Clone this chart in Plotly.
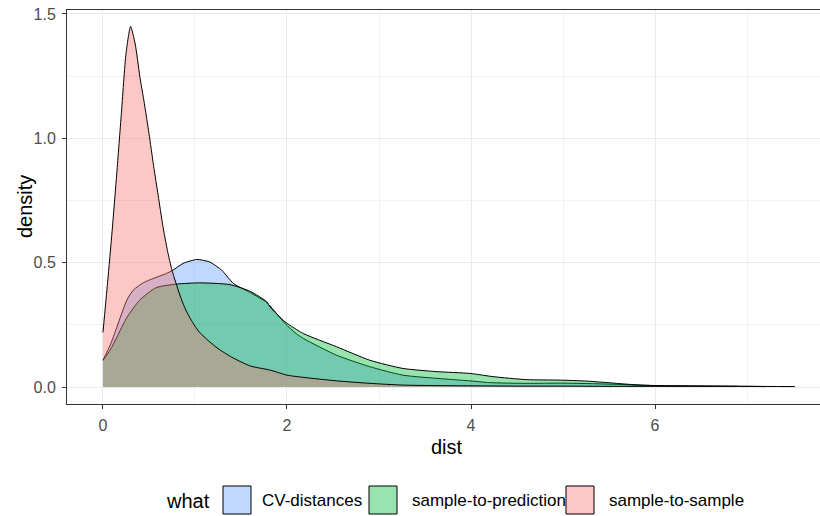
import plotly.graph_objects as go

# Kernel density estimates of three distance distributions
cv_x = [0, 0.08, 0.15, 0.26, 0.33, 0.44, 0.55, 0.69, 0.76, 0.87, 1.02, 1.16, 1.29, 1.42,
        1.6, 1.78, 1.9, 1.98, 2.1, 2.18, 2.54, 2.9, 3.26, 3.63, 3.99, 4.2, 4.6, 5.0, 5.5,
        6.0, 6.5, 6.9]
cv_y = [0.108, 0.17, 0.24, 0.35, 0.39, 0.42, 0.437, 0.457, 0.47, 0.497, 0.513, 0.503, 0.47,
        0.416, 0.38, 0.34, 0.29, 0.255, 0.215, 0.195, 0.128, 0.082, 0.048, 0.035, 0.025,
        0.018, 0.015, 0.016, 0.012, 0.006, 0.004, 0.003]

s2p_x = [0, 0.08, 0.15, 0.26, 0.4, 0.58, 0.8, 1.05, 1.38, 1.6, 1.78, 1.82, 1.98, 2.18,
         2.54, 2.9, 3.26, 3.63, 3.99, 4.24, 4.6, 4.97, 5.26, 5.58, 5.84, 6.2, 6.6, 7.0, 7.2]
s2p_y = [0.108, 0.15, 0.2, 0.28, 0.35, 0.4, 0.414, 0.419, 0.412, 0.385, 0.343, 0.32, 0.262,
         0.215, 0.162, 0.108, 0.075, 0.062, 0.055, 0.042, 0.03, 0.028, 0.024, 0.015, 0.008,
         0.005, 0.004, 0.003, 0.002]

s2s_x = [0, 0.05, 0.1, 0.15, 0.2, 0.25, 0.3, 0.35, 0.4, 0.45, 0.5, 0.55, 0.6, 0.65, 0.7,
         0.75, 0.8, 0.85, 0.9, 0.95, 1.0, 1.05, 1.15, 1.25, 1.4, 1.6, 1.82, 2.0, 2.18, 2.54,
         2.9, 3.26, 3.63, 4.0, 4.5, 5.0, 5.5, 6.0, 6.5, 7.0, 7.52]
s2s_y = [0.22, 0.42, 0.63, 0.86, 1.1, 1.34, 1.45, 1.38, 1.25, 1.14, 1.02, 0.89, 0.77, 0.65,
         0.55, 0.47, 0.41, 0.355, 0.31, 0.275, 0.245, 0.22, 0.185, 0.155, 0.12, 0.085, 0.068,
         0.048, 0.039, 0.025, 0.015, 0.008, 0.006, 0.005, 0.004, 0.004, 0.003, 0.003, 0.003,
         0.003, 0.002]

groups = ["CV-distances", "sample-to-prediction", "sample-to-sample"]
series = [(cv_x, cv_y), (s2p_x, s2p_y), (s2s_x, s2s_y)]
hues = [(97, 156, 255), (0, 186, 56), (248, 118, 109)]
alpha = 0.4

x_ticks = [0, 2, 4, 6]
y_ticks = [0.0, 0.5, 1.0, 1.5]
y_tick_text = ["0.0", "0.5", "1.0", "1.5"]

W, H = 820, 516
M_L, M_R, M_T, M_B = 67, 0, 10, 112
PW, PH = W - M_L - M_R, H - M_T - M_B


def px(xp):
    return (xp - M_L) / PW


def py(yp):
    return (H - M_B - yp) / PH


fig = go.Figure()
for name, (xs, ys), (r, g, b) in zip(groups, series, hues):
    fig.add_trace(go.Scatter(
        x=xs, y=ys, name=name, mode="lines", fill="tozeroy",
        fillcolor=f"rgba({r},{g},{b},{alpha})",
        line=dict(color="black", width=1, shape="spline", smoothing=0.6),
        showlegend=False, hoverinfo="skip",
    ))

font_family = "Liberation Sans, Arial, sans-serif"
grid_major = "#ebebeb"
grid_minor = "#f2f2f2"

fig.update_layout(
    width=W, height=H,
    margin=dict(l=M_L, r=M_R, t=M_T, b=M_B),
    paper_bgcolor="white", plot_bgcolor="white",
    font=dict(family=font_family, color="#4d4d4d", size=16),
    showlegend=False,
    xaxis=dict(
        range=[-0.391, 7.793], tickvals=x_ticks, ticktext=[str(v) for v in x_ticks],
        showgrid=True, gridcolor=grid_major, gridwidth=1, zeroline=False,
        minor=dict(tickvals=[1, 3, 5, 7], showgrid=True, gridcolor=grid_minor,
                   gridwidth=1, ticks=""),
        showline=True, linecolor="#333333", linewidth=1, mirror=True,
        ticks="outside", ticklen=4, tickcolor="#333333", tickwidth=1,
        tickfont=dict(size=16, color="#4d4d4d"), ticklabelstandoff=3,
    ),
    yaxis=dict(
        range=[-0.068, 1.516], tickvals=y_ticks, ticktext=y_tick_text,
        showgrid=True, gridcolor=grid_major, gridwidth=1, zeroline=False,
        minor=dict(tickvals=[0.25, 0.75, 1.25], showgrid=True, gridcolor=grid_minor,
                   gridwidth=1, ticks=""),
        showline=True, linecolor="#333333", linewidth=1, mirror=False,
        ticks="outside", ticklen=4, tickcolor="#333333", tickwidth=1,
        tickfont=dict(size=16, color="#4d4d4d"), ticklabelstandoff=3,
    ),
)

# Axis titles
fig.add_annotation(text="dist", x=px(447), y=py(447), xref="paper", yref="paper",
                   showarrow=False, font=dict(size=20, color="black"),
                   xanchor="center", yanchor="middle")
fig.add_annotation(text="density", x=px(25), y=py(207), xref="paper", yref="paper",
                   showarrow=False, textangle=-90, font=dict(size=20, color="black"),
                   xanchor="center", yanchor="middle")

# Legend drawn along the bottom
fig.add_annotation(text="what", x=px(164), y=py(501), xref="paper", yref="paper",
                   showarrow=False, font=dict(size=20, color="black"),
                   xanchor="left", yanchor="middle")
key_left = [223, 369, 566]
label_left = [260, 410, 607]
for name, (r, g, b), kl, tl in zip(groups, hues, key_left, label_left):
    fr = round(255 - alpha * (255 - r))
    fg = round(255 - alpha * (255 - g))
    fb = round(255 - alpha * (255 - b))
    fig.add_shape(type="rect", xref="paper", yref="paper",
                  x0=px(kl), x1=px(kl + 28), y0=py(514), y1=py(486),
                  fillcolor=f"rgb({fr},{fg},{fb})",
                  line=dict(color="black", width=1))
    fig.add_annotation(text=name, x=px(tl), y=py(501), xref="paper", yref="paper",
                       showarrow=False, font=dict(size=17, color="black"),
                       xanchor="left", yanchor="middle")

fig.write_html("out.html")
